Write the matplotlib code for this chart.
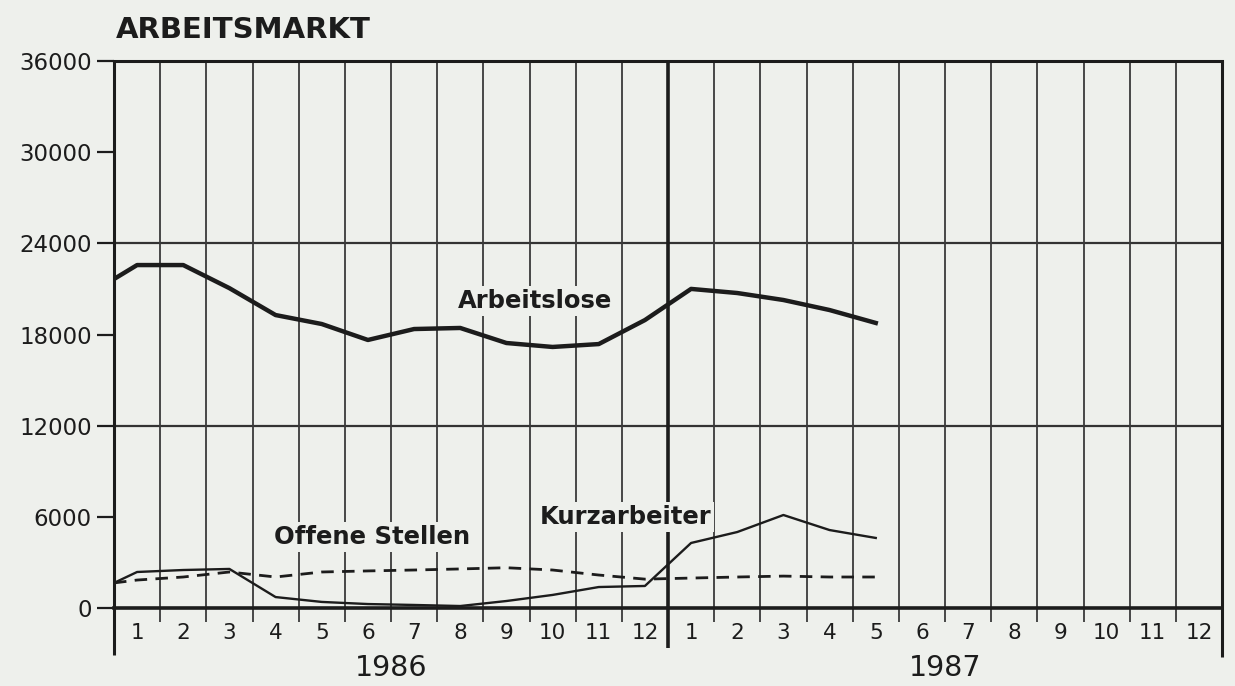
import matplotlib.pyplot as plt
import numpy as np

# month positions: 0 = start of Jan 1986, values sit in the middle of each month
months_x = [0.0] + [i + 0.5 for i in range(17)]

arbeitslose = [21650, 22570, 22570, 21050, 19280, 18690, 17640, 18360, 18430,
               17440, 17180, 17370, 18950, 21000, 20730, 20270, 19610, 18760]
offene_stellen = [1650, 1840, 2040, 2370, 2040, 2370, 2440, 2500, 2570,
                  2650, 2500, 2170, 1900, 1970, 2040, 2100, 2040, 2040]
kurzarbeiter = [1650, 2370, 2500, 2570, 720, 400, 260, 200, 130,
                460, 860, 1380, 1450, 4280, 5000, 6120, 5130, 4610]

month_labels = [str(m) for m in range(1, 13)] * 2
years = ['1986', '1987']
y_ticks = [0, 6000, 12000, 18000, 24000, 30000, 36000]

bg = '#eef0ec'
ink = '#1c1c1c'

fig = plt.figure(figsize=(12.35, 6.86), dpi=100, facecolor=bg)
ax = fig.add_axes([114 / 1235, 1 - 608 / 686, (1222 - 114) / 1235, (608 - 61) / 686])
ax.set_facecolor(bg)
ax.set_xlim(0, 24)
ax.set_ylim(0, 36000)
for s in ax.spines.values():
    s.set_visible(False)

# grid: horizontal lines every 12000, vertical lines at each month boundary
for y in [12000, 24000]:
    ax.axhline(y, color='#333333', lw=1.6, zorder=1)
ax.axhline(36000, color=ink, lw=2.2, zorder=3, clip_on=False)
ax.axhline(0, color=ink, lw=2.6, zorder=3, clip_on=False)
for k in range(25):
    if k == 0:
        low, lw = -3100, 2.2
    elif k == 12:
        low, lw = -2650, 2.6
    elif k == 24:
        low, lw = -3200, 2.2
    else:
        low, lw = -950, 1.3
    ax.plot([k, k], [low, 36000], color=ink if k in (0, 12, 24) else '#3a3a3a',
            lw=lw, clip_on=False, zorder=2, solid_capstyle='butt')

# series
ax.plot(months_x, arbeitslose, color=ink, lw=3.2, zorder=5, solid_joinstyle='round')
ax.plot(months_x, kurzarbeiter, color=ink, lw=1.7, zorder=5)
ax.plot(months_x, offene_stellen, color=ink, lw=2.0, dashes=(4.5, 3), zorder=5)

box = dict(facecolor=bg, edgecolor='none', pad=2)
ax.text(9.12, 20200, 'Arbeitslose', fontsize=17.5, fontweight='bold', color=ink,
        ha='center', va='center', bbox=box, zorder=4)
ax.text(5.59, 4670, 'Offene Stellen', fontsize=17.5, fontweight='bold', color=ink,
        ha='center', va='center', bbox=box, zorder=4)
ax.text(11.07, 5990, 'Kurzarbeiter', fontsize=17.5, fontweight='bold', color=ink,
        ha='center', va='center', bbox=box, zorder=4)

# axes ticks and labels
ax.set_yticks(y_ticks)
ax.set_yticklabels([str(v) for v in y_ticks], fontsize=16.5, color=ink)
ax.tick_params(axis='y', length=12, width=1.6, pad=4, colors=ink)
ax.set_xticks([i + 0.5 for i in range(24)])
ax.set_xticklabels(month_labels, fontsize=15.5, color=ink)
ax.tick_params(axis='x', length=0, pad=11)

fig.text(116 / 1235, 1 - 30 / 686, 'ARBEITSMARKT', fontsize=21, fontweight='bold',
         color=ink, ha='left', va='center')
for yr, cx in zip(years, [6, 18]):
    ax.text(cx, -3950, yr, fontsize=20.5, color=ink, ha='center', va='center')

fig.savefig('out.png', dpi=100, facecolor=bg)
